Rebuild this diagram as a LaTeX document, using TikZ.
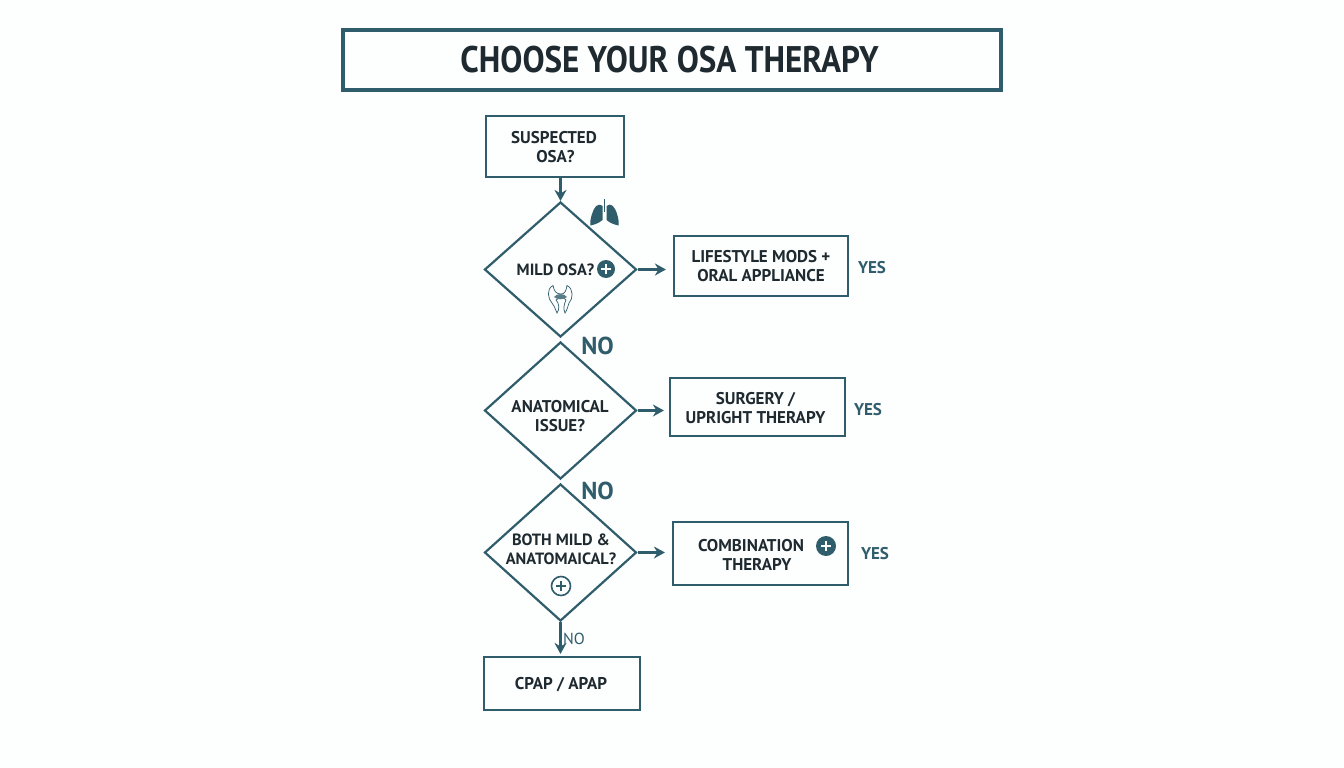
\documentclass[tikz,border=0pt]{standalone}
\usepackage{fontspec}
\setmainfont{PT Sans}
\newfontface\titlefont[FakeStretch=0.893]{PT Sans Bold}
\usetikzlibrary{shapes.geometric,arrows.meta}
\definecolor{tealline}{HTML}{2F5D6B}
\definecolor{inkdark}{HTML}{1E2A30}
\definecolor{pagetint}{HTML}{FDFEFE}
\tikzset{
  boxnode/.style={draw=tealline, line width=2.2pt, rectangle, inner sep=0pt},
  decision/.style={draw=tealline, line width=2.2pt, diamond, inner sep=0pt, aspect=1.13},
  boxtext/.style={text=inkdark, font=\bfseries\fontsize{17}{19.5}\selectfont, align=center, inner sep=0pt},
  yesnote/.style={text=tealline, font=\bfseries\fontsize{17}{20}\selectfont, inner sep=0pt},
  nonote/.style={text=tealline, font=\bfseries\fontsize{24.5}{30}\selectfont, inner sep=0pt},
  flow/.style={draw=tealline, line width=2.4pt, -{Stealth[length=11pt,width=12pt]}},
  plusdisc/.style={circle, fill=tealline, minimum size=18pt, inner sep=0pt},
  plusring/.style={circle, draw=tealline, line width=1.6pt, minimum size=19pt, inner sep=0pt}
}
\newcommand{\plusmark}[2]{\draw[#2, line width=2pt] (#1)+(-5,0) -- +(5,0) (#1)+(0,-5) -- +(0,5);}
\begin{document}
\begin{tikzpicture}[x=1pt,y=-1pt]
\useasboundingbox[fill=pagetint] (0,0) rectangle (1344,768);

% Title
\node[draw=tealline, line width=4pt, minimum width=658pt, minimum height=60pt, inner sep=0pt] (title) at (672,60) {};
\node[text=inkdark, font=\titlefont\fontsize{37}{40}\selectfont, inner sep=0pt] (titletext) at (669.5,60) {CHOOSE YOUR OSA THERAPY};

% Start box
\node[boxnode, line width=2pt, minimum width=138pt, minimum height=61pt] (suspect) at (554.5,146) {};
\node[boxtext] (suspecttext) at (554,147) {SUSPECTED\\\hspace*{3pt}OSA?};

% Decisions
\node[decision, minimum width=152pt, minimum height=135pt] (mild) at (560.5,269.5) {};
\node[decision, minimum width=152pt, minimum height=137pt] (anat) at (560.5,410.5) {};
\node[decision, minimum width=152pt, minimum height=137pt] (both) at (560.5,552.5) {};
\node[boxtext, font=\bfseries\fontsize{16.3}{19.5}\selectfont] (mildtext) at (555.5,270) {MILD OSA?};
\node[boxtext] (anattext) at (560,416) {ANATOMICAL\\ISSUE?};
\node[boxtext, font=\bfseries\fontsize{16.3}{19.5}\selectfont] (bothtext) at (561,549.5) {BOTH MILD \&\\ANATOMAICAL?};

% Therapy boxes
\node[boxnode, minimum width=174pt, minimum height=60pt] (lifestyle) at (761,266) {};
\node[boxnode, minimum width=175pt, minimum height=58pt] (surgery) at (757.5,407) {};
\node[boxnode, minimum width=175pt, minimum height=63pt] (combo) at (760.5,553.5) {};
\node[boxnode, minimum width=156pt, minimum height=53pt] (cpap) at (562,683.5) {};
\node[boxtext] (lifestyletext) at (761,266) {LIFESTYLE MODS +\\ORAL APPLIANCE};
\node[boxtext] (surgerytext) at (755.5,408) {SURGERY /\\UPRIGHT THERAPY};
\node[boxtext] (combotext) at (751,555) {COMBINATION\\\hspace*{12pt}THERAPY};
\node[boxtext] (cpaptext) at (561,684.5) {CPAP / APAP};

% Connectors
\draw[flow] (suspect.south -| mild.north) -- (mild.north);
\draw[flow, shorten >=7pt] (mild.east) -- (lifestyle.west |- mild.east);
\draw[flow, shorten >=5pt] (anat.east) -- (surgery.west |- anat.east);
\draw[flow, shorten >=7pt] (both.east) -- (combo.west |- both.east);
\draw[flow, shorten >=2pt] (both.south) -- (both.south |- cpap.north);

% Branch labels
\node[yesnote] (yesa) at (872,268) {YES};
\node[yesnote] (yesb) at (868,410) {YES};
\node[yesnote] (yesc) at (875,554) {YES};
\node[nonote] (noa) at (597.5,346) {NO};
\node[nonote] (nob) at (597.5,491) {NO};
\node[text=tealline, font=\fontsize{16}{18}\selectfont, inner sep=0pt] (noc) at (574,638.5) {NO};

% Plus icons
\node[plusdisc] (plusa) at (606,269) {};
\plusmark{plusa}{white}
\node[plusdisc, minimum size=20pt] (plusb) at (826,546) {};
\plusmark{plusb}{white}
\node[plusring] (plusc) at (561,586) {};
\plusmark{plusc}{tealline}

% Lungs
\fill[tealline] (602.5,206) .. controls (597,202) and (594,208) .. (592,214) .. controls (590.5,218) and (590,223) .. (590.5,225.5) .. controls (595,224.5) and (599,223) .. (602.5,220) -- cycle;
\fill[tealline] (606.5,206) .. controls (611,202) and (615,207) .. (617,214) .. controls (618.5,218) and (619,223) .. (618.5,225.5) .. controls (614,224.5) and (610,223) .. (606.5,220) -- cycle;
\draw[tealline, line width=1.5pt] (604.6,199) -- (604.6,212);

% Throat
\draw[tealline, line width=.7pt, fill=pagetint] (553,285.5) .. controls (546,289) and (548,299) .. (552,303) .. controls (555,307) and (556,311) .. (557,313) .. controls (560,309) and (559,303) .. (556,300) .. controls (560,297) and (564,297) .. (566,300) .. controls (564,304) and (563,309) .. (565,313) .. controls (567,310) and (568,306) .. (569,303) .. controls (573,299) and (574,289) .. (567,285.5) .. controls (566,291) and (565,294) .. (561,294) .. controls (556,294) and (554,291) .. (553,285.5) -- cycle;
\fill[tealline!80] (554,297) .. controls (557,293) and (564,293) .. (567,297) .. controls (564,300) and (557,300) .. (554,297) -- cycle;
\end{tikzpicture}
\end{document}
